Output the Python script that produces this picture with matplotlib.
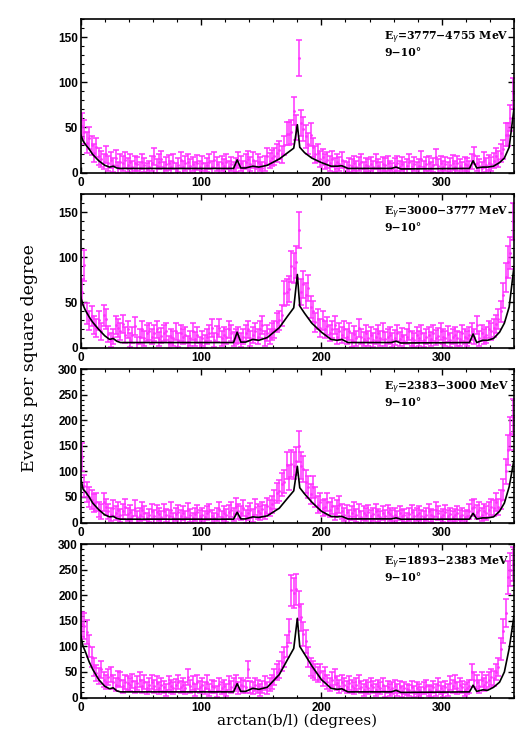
import numpy as np
import matplotlib
matplotlib.use("Agg")
import matplotlib.pyplot as plt
from matplotlib.ticker import MultipleLocator

# ---------------- data ----------------
bin_centers = np.arange(1, 360, 2)  # 2-degree bins

labels = ["E$_\\gamma$=3777\u22124755 MeV", "E$_\\gamma$=3000\u22123777 MeV",
          "E$_\\gamma$=2383\u22123000 MeV", "E$_\\gamma$=1893\u22122383 MeV"]
lat_label = "9\u221210\u00b0"

data_1 = [
    52, 45, 33, 38, 30, 22, 28, 18, 15, 12,
    20, 10, 14, 8, 16, 5, 12, 10, 14, 8,
    12, 6, 10, 9, 5, 12, 8, 4, 6, 10,
    18, 7, 12, 15, 5, 9, 11, 6, 12, 4,
    8, 14, 6, 10, 12, 7, 9, 5, 11, 6,
    10, 4, 8, 12, 6, 14, 9, 5, 10, 7,
    12, 6, 9, 5, 8, 14, 10, 6, 12, 15,
    9, 14, 6, 12, 9, 5, 10, 18, 13, 16,
    18, 22, 25, 20, 30, 43, 43, 45, 68, 50,
    127, 55, 48, 40, 32, 42, 28, 20, 22, 15,
    17, 12, 14, 10, 15, 8, 12, 9, 14, 6,
    5, 8, 7, 10, 6, 9, 12, 5, 8, 7,
    9, 6, 12, 7, 5, 9, 8, 10, 6, 4,
    8, 10, 6, 9, 5, 7, 12, 6, 9, 5,
    7, 15, 6, 9, 10, 5, 8, 17, 7, 10,
    6, 9, 5, 8, 11, 6, 10, 7, 5, 9,
    8, 6, 12, 19, 10, 7, 5, 14, 8, 11,
    9, 13, 18, 15, 22, 26, 42, 42, 60, 88,
]
data_2 = [
    62, 91, 38, 30, 35, 25, 22, 30, 18, 36,
    32, 15, 8, 12, 25, 22, 18, 26, 14, 20,
    8, 14, 24, 5, 12, 20, 10, 16, 18, 12,
    16, 20, 9, 13, 16, 18, 6, 12, 10, 18,
    8, 16, 12, 14, 6, 10, 18, 9, 14, 5,
    10, 7, 12, 16, 22, 8, 15, 22, 10, 14,
    12, 20, 16, 9, 12, 14, 8, 12, 16, 20,
    10, 14, 18, 12, 20, 25, 10, 16, 12, 18,
    20, 28, 30, 36, 60, 62, 65, 90, 88, 95,
    130, 62, 70, 58, 66, 45, 40, 28, 32, 22,
    30, 20, 24, 16, 20, 25, 12, 18, 14, 20,
    12, 18, 8, 15, 10, 22, 12, 9, 16, 10,
    14, 8, 12, 16, 10, 18, 9, 12, 14, 8,
    11, 16, 9, 13, 7, 12, 18, 10, 8, 14,
    10, 16, 8, 12, 14, 9, 16, 11, 13, 18,
    12, 10, 15, 8, 12, 14, 10, 9, 16, 12,
    10, 14, 18, 12, 25, 10, 16, 12, 14, 20,
    18, 22, 26, 32, 40, 58, 78, 95, 105, 140,
]
data_3 = [
    128, 72, 60, 50, 45, 38, 40, 25, 22, 40,
    30, 22, 15, 28, 18, 25, 14, 22, 30, 16,
    20, 12, 28, 10, 15, 25, 18, 8, 14, 22,
    12, 20, 16, 10, 22, 14, 12, 25, 8, 16,
    20, 12, 18, 10, 24, 14, 8, 16, 20, 12,
    15, 10, 18, 22, 12, 8, 16, 26, 10, 18,
    14, 20, 25, 16, 32, 22, 18, 28, 12, 18,
    24, 14, 30, 22, 18, 26, 20, 32, 28, 36,
    45, 58, 62, 75, 80, 112, 88, 115, 111, 120,
    149, 111, 105, 80, 70, 55, 70, 50, 35, 40,
    28, 30, 40, 25, 32, 18, 28, 35, 22, 15,
    20, 12, 18, 25, 14, 22, 10, 18, 15, 20,
    12, 16, 22, 14, 10, 18, 12, 20, 16, 12,
    15, 10, 18, 12, 14, 8, 16, 20, 12, 15,
    18, 12, 10, 15, 22, 14, 12, 25, 18, 10,
    14, 20, 12, 16, 10, 14, 18, 12, 15, 10,
    12, 22, 28, 30, 20, 25, 15, 22, 18, 25,
    30, 28, 40, 30, 45, 64, 100, 142, 175, 207,
]
data_4 = [
    143, 140, 128, 100, 80, 60, 48, 42, 55, 35,
    30, 40, 45, 30, 25, 38, 35, 22, 30, 28,
    25, 32, 20, 28, 35, 22, 30, 18, 25, 30,
    22, 28, 18, 25, 20, 15, 28, 22, 18, 24,
    30, 20, 25, 18, 40, 22, 28, 15, 30, 20,
    25, 18, 30, 15, 22, 20, 12, 26, 18, 22,
    15, 28, 20, 25, 30, 18, 25, 22, 20, 55,
    20, 18, 25, 22, 15, 20, 28, 18, 25, 30,
    40, 50, 55, 70, 80, 100, 130, 210, 205, 212,
    180, 157, 125, 110, 80, 60, 55, 50, 45, 50,
    38, 45, 30, 25, 35, 40, 28, 22, 30, 25,
    20, 28, 22, 18, 25, 30, 20, 15, 22, 18,
    25, 20, 15, 22, 18, 25, 12, 20, 15, 18,
    22, 15, 20, 12, 18, 16, 14, 20, 12, 18,
    15, 10, 18, 22, 14, 12, 20, 15, 25, 18,
    12, 20, 15, 28, 22, 30, 18, 25, 20, 15,
    18, 22, 50, 35, 30, 22, 35, 25, 30, 35,
    40, 38, 50, 60, 95, 130, 165, 235, 250, 262,
]

# Poisson-like error model parameters per panel (variance = scale*value + floor)
err_scale = [2.9, 2.8, 5.4, 4.0]
err_floor = [35, 35, 87, 64]

# model curve (black line)
model_x = [0, 2, 4, 7, 10, 15, 20, 24, 27, 30, 33, 127, 130, 133, 137, 143, 148,
           155, 165, 172, 177, 180, 182, 186, 192, 200, 208, 213, 217, 222, 258,
           262, 266, 323, 326, 329, 334, 338, 343, 348, 352, 356, 360]
model_1 = [42, 35, 31, 26, 20, 13, 8, 6, 7, 5, 4.5, 4.5, 14, 5, 5, 7, 6,
           8, 15, 22, 27, 53, 28, 22, 16, 11, 7, 7, 7.5, 4.5, 4.5,
           6, 4, 4.5, 13, 5, 6, 6, 7, 11, 16, 28, 71]
model_2 = [56, 47, 41, 34, 28, 20, 13, 9, 10, 7, 5.5, 5.5, 17, 6, 6, 9, 8,
           11, 22, 35, 44, 81, 46, 38, 27, 17, 9, 8, 9, 5.5, 5.5,
           7, 5, 5.5, 15, 5.5, 8, 8, 10, 17, 27, 45, 90]
model_3 = [87, 65, 60, 50, 38, 25, 15, 11, 12, 8, 6.5, 6.5, 20, 7, 7, 11, 10,
           13, 28, 48, 62, 110, 68, 56, 40, 22, 12, 11, 12, 7, 7,
           9, 6.5, 6.5, 18, 7, 9, 9, 11, 22, 38, 70, 123]
model_4 = [122, 100, 89, 70, 55, 35, 22, 17, 19, 13, 11, 11, 27, 12, 12, 18, 16,
           20, 45, 75, 96, 155, 100, 85, 62, 35, 18, 16, 17, 11, 11,
           14, 10, 11, 24, 12, 15, 14, 20, 30, 50, 96, 160]

y_max = [170, 170, 300, 300]
y_ticks = [[0, 50, 100, 150], [0, 50, 100, 150],
           [0, 50, 100, 150, 200, 250, 300], [0, 50, 100, 150, 200, 250, 300]]
x_ticks = [0, 100, 200, 300]

datas = [data_1, data_2, data_3, data_4]
models = [model_1, model_2, model_3, model_4]

# ---------------- plot ----------------
W, H = 532, 747
fig = plt.figure(figsize=(W / 100, H / 100), dpi=100)

left, right = 80.7, 514.0
tops = [19.3, 194.3, 369.3, 544.3]
ph = 153.2
magenta = "#ff33ff"
tick_font = dict(family="Liberation Sans", weight="bold", size=8.5)

for i in range(4):
    ax = fig.add_axes([left / W, 1 - (tops[i] + ph) / H, (right - left) / W, ph / H])
    v = np.array(datas[i], dtype=float)
    e = np.sqrt(err_scale[i] * v + err_floor[i])
    ax.errorbar(bin_centers, v, yerr=e, fmt='.', ms=2, color=magenta, ecolor=magenta,
                elinewidth=1.1, capsize=2.2, capthick=1.1, zorder=2)
    ax.plot(model_x, models[i], color="black", lw=1.2, zorder=3)
    ax.set_xlim(0, 360)
    ax.set_ylim(0, y_max[i])
    ax.set_xticks(x_ticks)
    ax.set_yticks(y_ticks[i])
    ax.xaxis.set_minor_locator(MultipleLocator(20))
    ax.yaxis.set_minor_locator(MultipleLocator(10))
    ax.tick_params(which="both", direction="in", top=True, right=True)
    ax.tick_params(which="major", length=4, width=1)
    ax.tick_params(which="minor", length=2, width=0.8)
    ax.tick_params(axis="x", pad=3)
    ax.tick_params(axis="y", pad=2)
    for lab in ax.get_xticklabels() + ax.get_yticklabels():
        lab.set_fontproperties(matplotlib.font_manager.FontProperties(**tick_font))
    for sp in ax.spines.values():
        sp.set_linewidth(1.2)
    ax.text(0.70, 0.93, labels[i], transform=ax.transAxes, ha="left", va="top",
            fontsize=7.8, family="DejaVu Serif", weight="bold")
    ax.text(0.70, 0.82, lat_label, transform=ax.transAxes, ha="left", va="top",
            fontsize=7.8, family="DejaVu Serif", weight="bold")

fig.text(30 / W, 1 - 358 / H, "Events per square degree", rotation=90,
         ha="center", va="center", fontsize=12.5, family="DejaVu Serif")
fig.text(297 / W, 1 - 721 / H, "arctan(b/l) (degrees)", ha="center", va="center",
         fontsize=11, family="DejaVu Serif")

fig.savefig("out.png", dpi=100)
